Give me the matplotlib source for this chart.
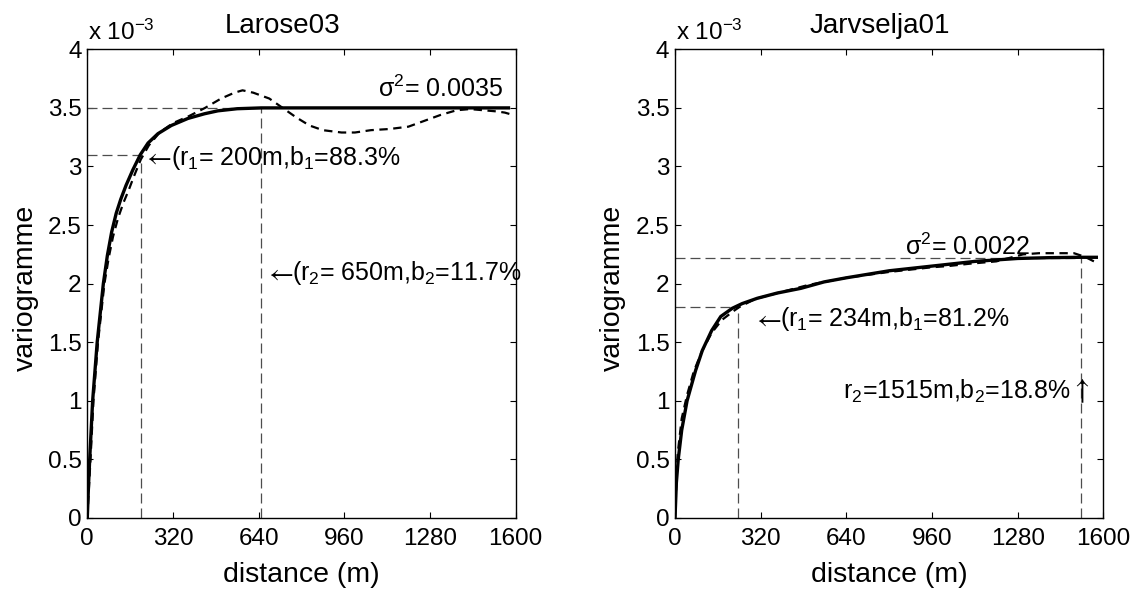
import matplotlib
matplotlib.use('Agg')
import matplotlib.pyplot as plt
from matplotlib.ticker import FixedLocator, FixedFormatter

plt.rcParams['font.family'] = ['Liberation Sans', 'DejaVu Sans']
plt.rcParams['mathtext.fontset'] = 'custom'
plt.rcParams['mathtext.rm'] = 'Liberation Sans'
plt.rcParams['mathtext.it'] = 'Liberation Sans'
plt.rcParams['mathtext.bf'] = 'Liberation Sans:bold'
plt.rcParams['lines.scale_dashes'] = False

# ---------------- data (variogram values in units of 1e-3) ----------------
titles = ['Larose03', 'Jarvselja01']
x_ticks = [0, 320, 640, 960, 1280, 1600]
x_tick_labels = ['0', '320', '640', '960', '1280', '1600']
y_ticks = [0, 0.5, 1, 1.5, 2, 2.5, 3, 3.5, 4]
y_tick_labels = ['0', '0.5', '1', '1.5', '2', '2.5', '3', '3.5', '4']

# Larose03 fitted model (solid)
larose_model_d = [0, 5, 10, 20, 37, 60, 75, 91, 108, 125, 145, 170, 198, 227, 264, 314, 376, 438, 488,
                  560, 650, 1000, 1580]
larose_model_g = [0, 0.3, 0.55, 1.0, 1.5, 2.0, 2.24, 2.44, 2.6, 2.72, 2.84, 2.97, 3.1, 3.2, 3.28, 3.35,
                  3.41, 3.45, 3.475, 3.493, 3.5, 3.5, 3.5]
# Larose03 experimental variogram (dashed)
larose_emp_d = [0, 12, 23, 40, 64, 80, 96, 115, 135, 155, 175, 200, 230, 270, 320, 380, 440, 500, 550,
                580, 620, 680, 730, 780, 830, 880, 950, 1000, 1060, 1130, 1200, 1260, 1320, 1380, 1430,
                1480, 1530, 1560, 1590]
larose_emp_g = [0, 0.5, 1.0, 1.5, 2.0, 2.22, 2.4, 2.56, 2.69, 2.8, 2.92, 3.06, 3.18, 3.29, 3.37, 3.43,
                3.5, 3.58, 3.63, 3.65, 3.63, 3.58, 3.5, 3.42, 3.35, 3.31, 3.29, 3.29, 3.31, 3.32, 3.34,
                3.39, 3.44, 3.48, 3.49, 3.48, 3.47, 3.46, 3.44]
larose_sill = 3.5
larose_r = [200, 650]
larose_r1_level = 3.1

# Jarvselja01 fitted model (solid)
jarv_model_d = [0, 5, 12, 25, 45, 56, 77, 102, 137, 171, 214, 251, 307, 382, 470, 557, 640, 800, 960,
                1120, 1280, 1400, 1515, 1580]
jarv_model_g = [0, 0.3, 0.5, 0.75, 1.0, 1.09, 1.26, 1.43, 1.6, 1.72, 1.79, 1.83, 1.875, 1.92, 1.96,
                2.015, 2.05, 2.11, 2.15, 2.19, 2.215, 2.222, 2.225, 2.225]
# Jarvselja01 experimental variogram (dashed)
jarv_emp_d = [0, 10, 25, 45, 70, 100, 137, 175, 215, 240, 300, 400, 500, 640, 800, 960, 1020, 1100,
              1200, 1300, 1360, 1420, 1490, 1530, 1565]
jarv_emp_g = [0, 0.55, 0.85, 1.05, 1.25, 1.42, 1.58, 1.69, 1.76, 1.8, 1.87, 1.93, 1.99, 2.05, 2.1, 2.14,
              2.15, 2.17, 2.19, 2.25, 2.26, 2.26, 2.26, 2.23, 2.19]
jarv_sill = 2.222
jarv_r = [234, 1515]
jarv_r1_level = 1.80

# ---------------- figure ----------------
fig = plt.figure(figsize=(11.41, 5.92), dpi=100)
ax1 = fig.add_axes([0.0765, 0.125, 0.3753, 0.7917])
ax2 = fig.add_axes([0.5916, 0.125, 0.3754, 0.7917])

thin = dict(color='0.3', lw=0.9, dashes=(7.2, 3.6))
FS_TICK = 17.5
FS_LAB = 20.5
FS_ANN = 18


def style(ax, title, title_x):
    ax.set_xlim(0, 1600)
    ax.set_ylim(0, 4)
    ax.xaxis.set_major_locator(FixedLocator(x_ticks))
    ax.xaxis.set_major_formatter(FixedFormatter(x_tick_labels))
    ax.yaxis.set_major_locator(FixedLocator(y_ticks))
    ax.yaxis.set_major_formatter(FixedFormatter(y_tick_labels))
    ax.tick_params(direction='in', length=4.5, width=0.8, top=True, right=True, labelsize=FS_TICK)
    ax.tick_params(axis='x', pad=7)
    ax.tick_params(axis='y', pad=4)
    for s in ax.spines.values():
        s.set_linewidth(1.0)
    ax.text(title_x, 1.034, title, transform=ax.transAxes, ha='center', va='baseline', fontsize=20)
    ax.text(0.002, 1.021, r'x 10$^{-3}$', transform=ax.transAxes, ha='left', va='baseline', fontsize=17.5)
    ax.text(0.5, -0.136, 'distance (m)', transform=ax.transAxes, ha='center', va='baseline',
            fontsize=FS_LAB)
    ax.text(-0.128, 0.492, 'variogramme', transform=ax.transAxes, ha='center', va='baseline',
            rotation=90, rotation_mode='anchor', fontsize=FS_LAB)


def left_arrow_text(ax, x, y, main):
    ax.text(x, y, r'$\leftarrow$', math_fontfamily='stix', fontsize=FS_ANN + 1.5, ha='left', va='baseline')
    ax.annotate(main, xy=(x, y), xytext=(FS_ANN * 1.1, 0), textcoords='offset points',
                ha='left', va='baseline', fontsize=FS_ANN)


def up_arrow_text(ax, x, y, main):
    ax.text(x, y, r'$\uparrow$', math_fontfamily='stix', fontsize=FS_ANN + 3, ha='right', va='baseline')
    ax.annotate(main, xy=(x, y), xytext=(-FS_ANN * 0.75, 0), textcoords='offset points',
                ha='right', va='baseline', fontsize=FS_ANN)


# Left panel
ax1.plot([0, larose_r[1]], [larose_sill, larose_sill], **thin)
ax1.plot([0, larose_r[0]], [larose_r1_level, larose_r1_level], **thin)
ax1.plot([larose_r[0], larose_r[0]], [0, larose_r1_level], **thin)
ax1.plot([larose_r[1], larose_r[1]], [0, larose_sill], **thin)
ax1.plot(larose_emp_d, larose_emp_g, color='k', lw=1.6, dashes=(6, 4))
ax1.plot(larose_model_d, larose_model_g, color='k', lw=2.4, solid_capstyle='butt')
ax1.text(1555, 3.59, r'σ$^2$= 0.0035', ha='right', va='baseline', fontsize=FS_ANN)
left_arrow_text(ax1, 210, 3.015, r'(r$_1$= 200m,b$_1$=88.3%')
left_arrow_text(ax1, 663, 2.03, r'(r$_2$= 650m,b$_2$=11.7%')
style(ax1, titles[0], 0.456)

# Right panel
ax2.plot([0, jarv_r[1]], [jarv_sill, jarv_sill], **thin)
ax2.plot([0, jarv_r[0]], [jarv_r1_level, jarv_r1_level], **thin)
ax2.plot([jarv_r[0], jarv_r[0]], [0, jarv_r1_level], **thin)
ax2.plot([jarv_r[1], jarv_r[1]], [0, jarv_sill], **thin)
ax2.plot(jarv_emp_d, jarv_emp_g, color='k', lw=1.6, dashes=(6, 4))
ax2.plot(jarv_model_d, jarv_model_g, color='k', lw=2.4, solid_capstyle='butt')
ax2.text(860, 2.245, r'σ$^2$= 0.0022', ha='left', va='baseline', fontsize=FS_ANN)
left_arrow_text(ax2, 290, 1.635, r'(r$_1$= 234m,b$_1$=81.2%')
up_arrow_text(ax2, 1548, 1.02, r'r$_2$=1515m,b$_2$=18.8%')
style(ax2, titles[1], 0.479)

fig.savefig('out.png', dpi=100)
